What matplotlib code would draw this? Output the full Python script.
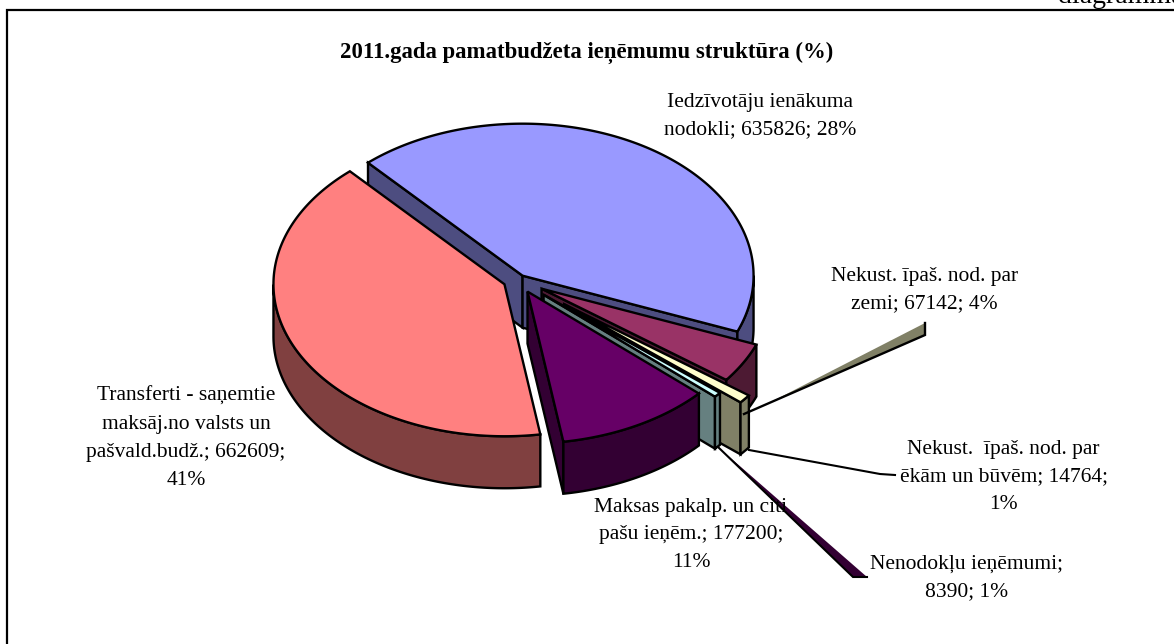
import numpy as np
import matplotlib
matplotlib.use('Agg')
import matplotlib.pyplot as plt
from matplotlib.patches import Polygon

plt.rcParams['font.family'] = ['Liberation Serif', 'DejaVu Serif']

# --- data (order = clockwise from the start angle) ---
values = [635826, 67142, 14764, 8390, 177200, 662609]
labels = [
    'Iedzīvotāju ienākuma\nnodokli; 635826; 28%',
    'Nekust. īpaš. nod. par\nzemi; 67142; 4%',
    'Nekust.  īpaš. nod. par\nēkām un būvēm; 14764;\n1%',
    'Nenodokļu ieņēmumi;\n8390; 1%',
    'Maksas pakalp. un citi\npašu ieņēm.; 177200;\n11%',
    'Transferti - saņemtie\nmaksāj.no valsts un\npašvald.budž.; 662609;\n41%',
]
title = '2011.gada pamatbudžeta ieņēmumu struktūra (%)'

colors_top = ['#9999FF', '#993366', '#FFFFCC', '#CCFFFF', '#660066', '#FF8080']
colors_side = ['#4D4D80', '#4D1A33', '#808066', '#668080', '#330033', '#804040']
explode = [8, 27, 59, 34, 20, 15]
label_pos = [(760, 116), (924.5, 290), (1003.5, 477), (967, 578), (691, 535), (186, 438)]

# --- pie geometry in pixels ---
CX, CY = 518, 280
RX, RY = 231, 152
DEPTH = 52
START = 132
LW = 1.7


def warp(a):
    # excel's 3d view stretches the front a bit
    t = np.radians(a - START)
    return a - 3.39 * (1 - np.cos(t)) + 2.145 * np.sin(t)


def rim(x0, y0, a):
    r = np.radians(a)
    return np.column_stack([x0 + RX * np.cos(r), y0 - RY * np.sin(r)])


def poly(ax, pts, color, lw=LW):
    ax.add_patch(Polygon(pts, closed=True, facecolor=color, edgecolor='black',
                         linewidth=lw, joinstyle='miter'))


def draw_wedge(ax, a_lo, a_hi, mid, ex, top, side):
    x0 = CX + ex * np.cos(np.radians(mid))
    y0 = CY - ex * RY / RX * np.sin(np.radians(mid))
    drop = np.array([0, DEPTH])
    apex = np.array([x0, y0])

    # radial walls facing the viewer
    for a, visible in ((a_hi, np.cos(np.radians(a_hi)) < 0), (a_lo, np.cos(np.radians(a_lo)) > 0)):
        if visible:
            p = rim(x0, y0, np.array([a]))[0]
            poly(ax, [apex, p, p + drop, apex + drop], side)

    # outer wall, only the front half of the rim
    angles = np.linspace(a_lo, a_hi, 300)
    front = angles[np.sin(np.radians(angles)) <= 0]
    if len(front) > 1:
        arc = rim(x0, y0, front)
        poly(ax, np.vstack([arc, arc[::-1] + drop]), side)

    poly(ax, np.vstack([apex, rim(x0, y0, angles)]), top)


fig = plt.figure(figsize=(11.74, 6.44), dpi=100)
ax = fig.add_axes([0, 0, 1, 1])
ax.set_xlim(0, 1174)
ax.set_ylim(644, 0)
ax.axis('off')

# frame, only top and left are inside the crop
ax.plot([1174, 7, 7], [10, 10, 644], color='black', lw=1.6, solid_joinstyle='miter')

total = sum(values)
a = START
for i, v in enumerate(values):
    sweep = v / total * 360
    a_hi, a_lo = warp(a), warp(a - sweep)
    draw_wedge(ax, a_lo, a_hi, (a_lo + a_hi) / 2, explode[i], colors_top[i], colors_side[i])
    a -= sweep

# leader lines
ax.add_patch(Polygon([(768, 403.5), (925, 323), (925, 335)], closed=True, facecolor='#808066', edgecolor='none'))
ax.plot([744, 925, 925], [414, 335, 323], color='black', lw=1.7, solid_joinstyle='miter')
ax.add_patch(Polygon([(718, 447), (853, 577), (867, 577)], closed=True, facecolor='#330033', edgecolor='none'))
ax.plot([718, 853, 867], [447, 577, 577], color='black', lw=1.5, solid_joinstyle='miter')
ax.plot([749, 880, 895], [450, 474, 475], color='black', lw=1.5)

for (x, y), txt in zip(label_pos, labels):
    ax.text(x, y, txt, ha='center', va='center', fontsize=15.5, linespacing=1.64, color='black')

ax.text(587, 53, title, ha='center', va='center', fontsize=16.4, fontweight='bold', color='black')
ax.text(1058, 2.5, 'diagramma', ha='left', va='baseline', fontsize=20, color='black')

fig.savefig('out.png', dpi=100)
